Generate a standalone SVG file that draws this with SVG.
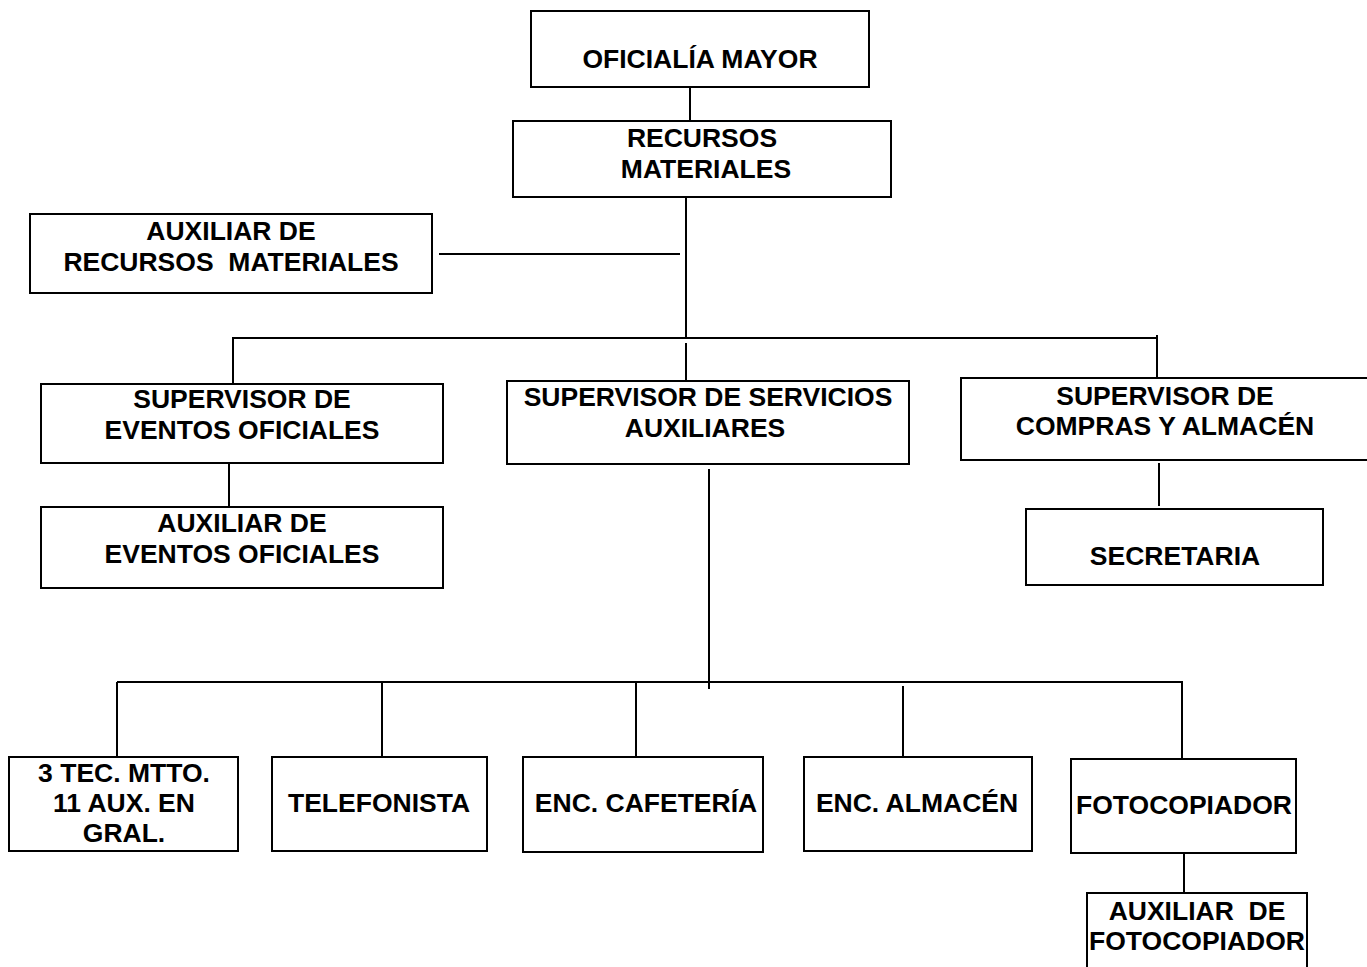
<svg xmlns="http://www.w3.org/2000/svg" width="1367" height="967" viewBox="0 0 1367 967">
<style>
.box{fill:#fff;stroke:#000;stroke-width:2}
.t{font-family:"Liberation Sans",Arial,sans-serif;font-weight:bold;font-size:26.5px;fill:#000;text-anchor:middle}
.c line{stroke:#000;stroke-width:2}
</style>
<rect width="1367" height="967" fill="#fff"/>
<g class="c" id="connectors">
<line x1="690" y1="87" x2="690" y2="121"/>
<line x1="686" y1="195" x2="686" y2="338"/>
<line x1="439" y1="254" x2="680" y2="254"/>
<line x1="232" y1="338" x2="1158" y2="338"/>
<line x1="233" y1="338" x2="233" y2="386"/>
<line x1="686" y1="343" x2="686" y2="386"/>
<line x1="1157" y1="335" x2="1157" y2="386"/>
<line x1="229" y1="463" x2="229" y2="507"/>
<line x1="1159" y1="463" x2="1159" y2="506"/>
<line x1="709" y1="469" x2="709" y2="689"/>
<line x1="117" y1="682" x2="1183" y2="682"/>
<line x1="117" y1="682" x2="117" y2="760"/>
<line x1="382" y1="682" x2="382" y2="760"/>
<line x1="636" y1="682" x2="636" y2="763"/>
<line x1="903" y1="686" x2="903" y2="760"/>
<line x1="1182" y1="682" x2="1182" y2="759"/>
<line x1="1184" y1="853" x2="1184" y2="893"/>
</g>
<g id="oficialia"><rect class="box" x="531" y="11" width="338" height="76"/><text class="t" x="700" y="68">OFICIALÍA MAYOR</text></g>
<g id="recursos"><rect class="box" x="513" y="121" width="378" height="76"/><text class="t" x="702" y="147">RECURSOS</text><text class="t" x="706" y="178">MATERIALES</text></g>
<g id="aux-recursos"><rect class="box" x="30" y="214" width="402" height="79"/><text class="t" x="231" y="240">AUXILIAR DE</text><text class="t" x="231" y="271" xml:space="preserve">RECURSOS  MATERIALES</text></g>
<g id="sup-eventos"><rect class="box" x="41" y="384" width="402" height="79"/><text class="t" x="242" y="408">SUPERVISOR DE</text><text class="t" x="242" y="439">EVENTOS OFICIALES</text></g>
<g id="aux-eventos"><rect class="box" x="41" y="507" width="402" height="81"/><text class="t" x="242" y="532">AUXILIAR DE</text><text class="t" x="242" y="563">EVENTOS OFICIALES</text></g>
<g id="sup-servicios"><rect class="box" x="507" y="381" width="402" height="83"/><text class="t" x="708" y="406">SUPERVISOR DE SERVICIOS</text><text class="t" x="705" y="437">AUXILIARES</text></g>
<g id="sup-compras"><rect class="box" x="961" y="378" width="420" height="82"/><text class="t" x="1165" y="405">SUPERVISOR DE</text><text class="t" x="1165" y="435">COMPRAS Y ALMACÉN</text></g>
<g id="secretaria"><rect class="box" x="1026" y="509" width="297" height="76"/><text class="t" x="1175" y="565">SECRETARIA</text></g>
<g id="tec"><rect class="box" x="9" y="757" width="229" height="94"/><text class="t" x="124" y="782">3 TEC. MTTO.</text><text class="t" x="124" y="812">11 AUX. EN</text><text class="t" x="124" y="842">GRAL.</text></g>
<g id="telefonista"><rect class="box" x="272" y="757" width="215" height="94"/><text class="t" x="379" y="812">TELEFONISTA</text></g>
<g id="cafeteria"><rect class="box" x="523" y="757" width="240" height="95"/><text class="t" x="646" y="812">ENC. CAFETERÍA</text></g>
<g id="almacen"><rect class="box" x="804" y="757" width="228" height="94"/><text class="t" x="917" y="812">ENC. ALMACÉN</text></g>
<g id="fotocopiador"><rect class="box" x="1071" y="759" width="225" height="94"/><text class="t" x="1184" y="814">FOTOCOPIADOR</text></g>
<g id="aux-fotocopiador"><rect class="box" x="1087" y="893" width="220" height="90"/><text class="t" x="1197" y="920" xml:space="preserve">AUXILIAR  DE</text><text class="t" x="1197" y="950">FOTOCOPIADOR</text></g>
</svg>
